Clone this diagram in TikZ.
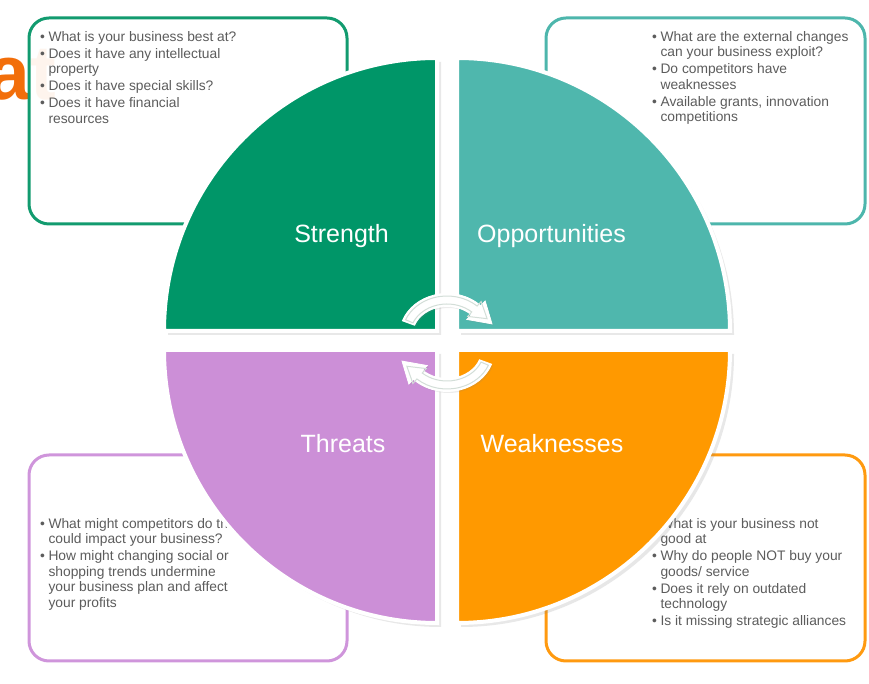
\documentclass[tikz,border=0pt]{standalone}
\usepackage{fontspec}
\setmainfont{Liberation Sans}
\usetikzlibrary{shadows}
\definecolor{cStr}{HTML}{009668}
\definecolor{cOpp}{HTML}{4FB7AD}
\definecolor{cThr}{HTML}{CC8FD7}
\definecolor{cWea}{HTML}{FF9900}
\definecolor{bStr}{HTML}{129B6F}
\definecolor{bOpp}{HTML}{4DB6AC}
\definecolor{bThr}{HTML}{CF95DB}
\definecolor{bWea}{HTML}{FF9A10}
\definecolor{txt}{HTML}{5C5C5C}
\definecolor{titleorange}{RGB}{242,110,10}
\definecolor{arrline}{HTML}{D3DED8}
\newcommand{\blist}[1]{{\fontsize{13.8}{15.6}\selectfont\color{txt}%
\begin{tabular}{@{}l@{\hspace{3.5pt}}l@{}}#1\end{tabular}}}
\begin{document}
\begin{tikzpicture}[x=1pt,y=1pt,
  infobox/.style={draw, line width=3pt, rounded corners=20pt, fill=white, fill opacity=0.93},
  quad/.style={draw=white, line width=4pt,
    drop shadow={opacity=0.18, shadow xshift=4pt, shadow yshift=-4pt}},
  qlabel/.style={anchor=base, text=white, font=\fontsize{25}{30}\selectfont, inner sep=0pt},
  blistnode/.style={anchor=north west, inner sep=0pt},
  arrbody/.style={fill=white, draw=white, line width=0.8pt,
    drop shadow={opacity=0.15, shadow xshift=1.5pt, shadow yshift=-1.5pt}},
  arrin/.style={draw=arrline, line width=1pt}]
\useasboundingbox (0,0) rectangle (869,684);
\clip (0,0) rectangle (869,684);

% background title fragment
\node[anchor=base west, inner sep=0pt, text=titleorange,
      font=\fontsize{77}{80}\selectfont\bfseries] (title) at (-13,584) {at};

% information boxes
\path[infobox, draw=bStr] (29,460) rectangle (347,666);
\path[infobox, draw=bOpp] (546,460) rectangle (865,666);
\path[infobox, draw=bThr] (29,23) rectangle (347,229);
\path[infobox, draw=bWea] (546,23) rectangle (865,229);

\node[blistnode] (tS) at (40,654) {\blist{%
\textbullet & What is your business best at?\\[1.4pt]
\textbullet & Does it have any intellectual\\
 & property\\[1.4pt]
\textbullet & Does it have special skills?\\[1.4pt]
\textbullet & Does it have financial\\
 & resources}};

\node[blistnode] (tO) at (652,654) {\blist{%
\textbullet & What are the external changes\\
 & can your business exploit?\\[1.4pt]
\textbullet & Do competitors have\\
 & weaknesses\\[1.4pt]
\textbullet & Available grants, innovation\\
 & competitions}};

\node[blistnode] (tT) at (40,167) {\blist{%
\textbullet & What might competitors do that\\
 & could impact your business?\\[1.4pt]
\textbullet & How might changing social or\\
 & shopping trends undermine\\
 & your business plan and affect\\
 & your profits}};

\node[blistnode] (tW) at (652,167) {\blist{%
\textbullet & What is your business not\\
 & good at\\[1.4pt]
\textbullet & Why do people NOT buy your\\
 & goods/ service\\[1.4pt]
\textbullet & Does it rely on outdated\\
 & technology\\[1.4pt]
\textbullet & Is it missing strategic alliances}};

% quadrants
\path[quad, fill=cStr] (437,353) -- ++(-273,0) arc[start angle=180, end angle=90, radius=273] -- cycle;
\path[quad, fill=cOpp] (457,353) -- ++(0,273) arc[start angle=90, end angle=0, radius=273] -- cycle;
\path[quad, fill=cThr] (437,334) -- ++(0,-273) arc[start angle=270, end angle=180, radius=273] -- cycle;
\path[quad, fill=cWea] (457,334) -- ++(273,0) arc[start angle=0, end angle=-90, radius=273] -- cycle;

\node[qlabel] (lS) at (341.5,441) {Strength};
\node[qlabel] (lO) at (551.5,441) {Opportunities};
\node[qlabel] (lT) at (343,231) {Threats};
\node[qlabel] (lW) at (552,231) {Weaknesses};

% cycle arrows
\begin{scope}[shift={(447,349)}]
\path[arrbody] (160:34.5 and 28.5) arc[start angle=160, end angle=45, x radius=34.5, y radius=28.5]
  -- (45:28 and 22) -- (45,11.1) -- (45:54 and 48) -- (45:47.5 and 41.5)
  arc[start angle=45, end angle=160, x radius=47.5, y radius=41.5] -- cycle;
\path[arrin] (157:37 and 31) arc[start angle=157, end angle=48, x radius=37, y radius=31]
  -- (48:31 and 25) -- (40.1,16.3) -- (48:51 and 45) -- (48:45 and 39)
  arc[start angle=48, end angle=157, x radius=45, y radius=39] -- cycle;
\end{scope}
\begin{scope}[shift={(447,334)}]
\path[arrbody] (340:34.5 and 28.5) arc[start angle=340, end angle=225, x radius=34.5, y radius=28.5]
  -- (225:28 and 22) -- (-45,-11.1) -- (225:54 and 48) -- (225:47.5 and 41.5)
  arc[start angle=225, end angle=340, x radius=47.5, y radius=41.5] -- cycle;
\path[arrin] (337:37 and 31) arc[start angle=337, end angle=228, x radius=37, y radius=31]
  -- (228:31 and 25) -- (-40.1,-16.3) -- (228:51 and 45) -- (228:45 and 39)
  arc[start angle=228, end angle=337, x radius=45, y radius=39] -- cycle;
\end{scope}
\end{tikzpicture}
\end{document}
